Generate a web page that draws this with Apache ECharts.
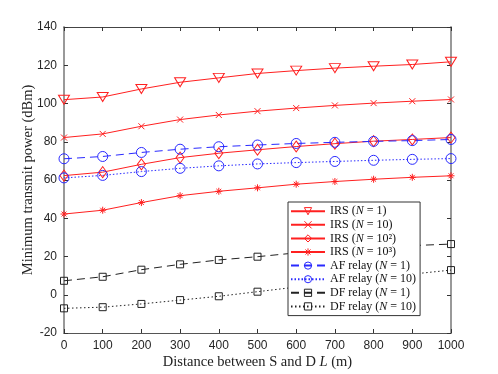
<!DOCTYPE html>
<html>
<head>
<meta charset="utf-8">
<script src="https://cdn.jsdelivr.net/npm/echarts@6/dist/echarts.min.js"></script>
<style>
  html, body { margin: 0; padding: 0; background: #fff; }
  #main { width: 498px; height: 374px; }
</style>
</head>
<body>
<div id="main"></div>
<script>
// 距离 L (m)
var distance = [0, 100, 200, 300, 400, 500, 600, 700, 800, 900, 1000];
var yTicks = [-20, 0, 20, 40, 60, 80, 100, 120, 140];

var irsN1    = [102, 103.4, 107.6, 111.1, 113.4, 115.7, 117.2, 118.5, 119.5, 120.4, 121.8];
var irsN10   = [82.2, 84.1, 88.1, 91.6, 94, 96, 97.6, 99, 100.2, 101.2, 102.1];
var irsN100  = [62.3, 64.1, 68.2, 71.7, 74, 75.8, 77.5, 79, 80.3, 81.2, 82.2];
var irsN1000 = [42.2, 44.2, 48.2, 51.8, 54.1, 55.9, 57.8, 59.2, 60.4, 61.4, 62.2];
var afN1     = [71.1, 72.3, 74.4, 76.1, 77.4, 78.3, 79.1, 79.7, 80.2, 80.6, 81.2];
var afN10    = [61.1, 62.4, 64.4, 66.1, 67.4, 68.4, 69.1, 69.7, 70.3, 70.8, 71.2];
var dfN1     = [7.3, 9.4, 13.1, 15.9, 18.2, 19.9, 21.9, 23.4, 24.7, 25.7, 26.5];
var dfN10    = [-7.1, -6.5, -4.8, -2.8, -0.8, 1.6, 4, 6.3, 8.5, 10.8, 12.9];

var names = [
  'IRS (N = 1)', 'IRS (N = 10)', 'IRS (N = 10²)', 'IRS (N = 10³)',
  'AF relay (N = 1)', 'AF relay (N = 10)', 'DF relay (N = 1)', 'DF relay (N = 10)'
];

function pairs(arr) {
  return distance.map(function (d, i) { return [d, arr[i]]; });
}

var RED = '#ff2020', BLUE = '#2a2aff', BLACK = '#222';

function mk(name, arr, color, lineType, symbol, size, rotate) {
  return {
    name: name,
    type: 'line',
    data: pairs(arr),
    symbol: symbol,
    symbolSize: size,
    symbolRotate: rotate || 0,
    showAllSymbol: true,
    lineStyle: { color: color, width: 1, type: lineType },
    itemStyle: { color: 'rgba(255,255,255,0)', borderColor: color, borderWidth: 1 },
    emphasis: { disabled: true },
    animation: false,
    z: 3
  };
}

var crossPath = 'path://M0,0L10,10M10,0L0,10';
var starPath = 'path://M5,0L5,10M0,5L10,5M1.5,1.5L8.5,8.5M8.5,1.5L1.5,8.5';

var series = [
  mk(names[0], irsN1, RED, 'solid', 'triangle', [11, 9], 180),
  mk(names[1], irsN10, RED, 'solid', crossPath, 6),
  mk(names[2], irsN100, RED, 'solid', 'diamond', [8, 11]),
  mk(names[3], irsN1000, RED, 'solid', starPath, 7),
  mk(names[4], afN1, BLUE, [8, 5], 'circle', 10),
  mk(names[5], afN10, BLUE, [1.5, 2], 'circle', 10),
  mk(names[6], dfN1, BLACK, [8, 5], 'rect', 7),
  mk(names[7], dfN10, BLACK, [1.5, 2.5], 'rect', 7)
];

var chart = echarts.init(document.getElementById('main'), null, { renderer: 'canvas' });

var tickStyle = { show: true, inside: true, length: 4, lineStyle: { color: '#333', width: 1 } };

var option = {
  backgroundColor: '#fff',
  animation: false,
  grid: { left: 64, right: 47, top: 27, bottom: 41, outerBoundsMode: 'none', containLabel: false },
  legend: {
    data: names,
    orient: 'vertical',
    left: 288,
    top: 202,
    itemWidth: 34,
    itemHeight: 9,
    itemGap: 1.2,
    padding: [3, 4, 3, 2],
    backgroundColor: '#fff',
    borderColor: '#333',
    borderWidth: 1,
    borderRadius: 0,
    itemStyle: { color: 'rgba(255,255,255,0)', borderWidth: 1 },
    textStyle: {
      fontFamily: 'Liberation Serif',
      fontSize: 12,
      lineHeight: 12.4,
      color: '#111',
      rich: { i: { fontFamily: 'Liberation Serif', fontStyle: 'italic', fontSize: 12, lineHeight: 12.4, color: '#111' } }
    },
    formatter: function (n) { return n.replace('N', '{i|N}'); }
  },
  xAxis: [{
    type: 'value',
    min: 0, max: 1000, interval: 100,
    name: 'Distance between S and D {i|L} (m)',
    nameLocation: 'middle',
    nameGap: 22,
    nameMoveOverlap: false,
    nameTextStyle: {
      fontFamily: 'Liberation Serif', fontSize: 14.5, color: '#222',
      rich: { i: { fontFamily: 'Liberation Serif', fontStyle: 'italic', fontSize: 14.5, color: '#222' } }
    },
    axisLine: { show: true, onZero: false, lineStyle: { color: '#555', width: 1 } },
    axisTick: tickStyle,
    axisLabel: { fontFamily: 'Liberation Sans', fontSize: 12, color: '#262626', margin: 7,
      formatter: function (v) { return String(v); } },
    splitLine: { show: false }
  }, {
    type: 'value',
    position: 'top',
    min: 0, max: 1000, interval: 100,
    axisLine: { show: true, onZero: false, lineStyle: { color: '#444', width: 1 } },
    axisTick: tickStyle,
    axisLabel: { show: false },
    splitLine: { show: false }
  }],
  yAxis: [{
    type: 'value',
    min: yTicks[0], max: yTicks[yTicks.length - 1], interval: 20,
    name: 'Minimum transmit power (dBm)',
    nameLocation: 'middle',
    nameGap: 28,
    nameMoveOverlap: false,
    nameTextStyle: { fontFamily: 'Liberation Serif', fontSize: 14.5, color: '#222' },
    axisLine: { show: true, onZero: false, lineStyle: { color: '#999', width: 2 } },
    axisTick: tickStyle,
    axisLabel: { fontFamily: 'Liberation Sans', fontSize: 12, color: '#262626', margin: 7 },
    splitLine: { show: false }
  }, {
    type: 'value',
    position: 'right',
    min: yTicks[0], max: yTicks[yTicks.length - 1], interval: 20,
    axisLine: { show: true, onZero: false, lineStyle: { color: '#999', width: 2 } },
    axisTick: tickStyle,
    axisLabel: { show: false },
    splitLine: { show: false }
  }],
  series: series
};

chart.setOption(option);
</script>
</body>
</html>
